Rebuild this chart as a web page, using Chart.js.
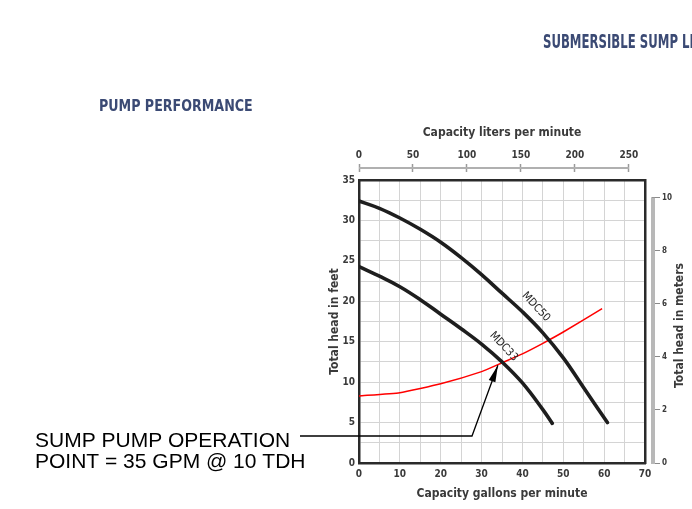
<!DOCTYPE html>
<html>
<head>
<meta charset="utf-8">
<script src="https://cdn.jsdelivr.net/npm/chart.js@4.4.1/dist/chart.umd.min.js"></script>
<style>
    html, body { margin: 0; padding: 0; background: #fff; }
    #wrap { position: relative; width: 692px; height: 509px; overflow: hidden; }
    #chart { position: absolute; left: 0; top: 0; }
    .hdr {
        position: absolute;
        font-family: "DejaVu Sans Condensed", "DejaVu Sans", sans-serif;
        font-stretch: condensed;
        font-weight: bold;
        color: #3b4a74;
        white-space: nowrap;
        transform-origin: 0 0;
    }
</style>
</head>
<body>
<div id="wrap">
    <canvas id="chart" width="692" height="509"></canvas>
    <div class="hdr" style="left:543px; top:30px; font-size:19px; transform:scaleX(0.685);">SUBMERSIBLE SUMP LI</div>
    <div class="hdr" style="left:99px; top:96px; font-size:16px; transform:scaleX(0.88);">PUMP PERFORMANCE</div>
</div>
<script>
// Pump curves (gallons per minute vs total head in feet)
const gpmMDC50  = [0, 5, 10, 15, 20, 25, 30, 35, 40, 45, 50, 55, 60.8];
const headMDC50 = [32.4, 31.5, 30.3, 28.9, 27.3, 25.4, 23.3, 21.0, 18.7, 16.1, 13.0, 9.3, 5.0];

const gpmMDC33  = [0, 5, 10, 15, 20, 25, 30, 35, 40, 45, 47.3];
const headMDC33 = [24.3, 23.1, 21.8, 20.2, 18.4, 16.6, 14.7, 12.5, 9.9, 6.6, 4.9];

// System curve (red)
const gpmSystem  = [0, 10, 20, 30, 35, 40, 45, 50, 59.5];
const headSystem = [8.3, 8.7, 9.8, 11.3, 12.4, 13.5, 14.8, 16.2, 19.1];

// Axis tick labels
const gpmTicks    = [0, 10, 20, 30, 40, 50, 60, 70];
const feetTicks   = [0, 5, 10, 15, 20, 25, 30, 35];
const litersTicks = [0, 50, 100, 150, 200, 250];
const metersTicks = [0, 2, 4, 6, 8, 10];

// Operating point the arrow points to
const opPoint = { gpm: 34, head: 12.1 };

const LPM_PER_GPM = 3.785;
const M_PER_FT = 0.3048;

const FAMILY = "'DejaVu Sans Condensed', 'DejaVu Sans', sans-serif";
const axisFont = { family: FAMILY, size: 10, weight: 'bold' };
const titleFont = { family: FAMILY, size: 12, weight: 'bold' };
const textColor = '#3a3a3a';
const gridColor = '#d4d4d4';
const frameColor = '#2a2a2a';

const toXY = (xs, ys) => xs.map((v, i) => ({ x: v, y: ys[i] }));

const overlay = {
    id: 'overlay',
    afterDatasetsDraw(chart) {
        const { ctx, chartArea, scales: { x, y, x2, y2 } } = chart;
        ctx.save();

        // liters axis line (0..250 only)
        const ly = x2.bottom - 12;
        ctx.strokeStyle = '#b0b0b0';
        ctx.lineWidth = 2;
        ctx.beginPath();
        ctx.moveTo(x2.getPixelForValue(litersTicks[0]), ly);
        ctx.lineTo(x2.getPixelForValue(litersTicks[litersTicks.length - 1]), ly);
        ctx.stroke();

        // meters axis bar
        const mx = y2.left + 8;
        ctx.strokeStyle = '#b8b8b8';
        ctx.lineWidth = 4;
        ctx.beginPath();
        ctx.moveTo(mx, y2.getPixelForValue(metersTicks[0]) + 1);
        ctx.lineTo(mx, y2.getPixelForValue(metersTicks[metersTicks.length - 1]));
        ctx.stroke();

        // right axis title, reading bottom to top
        ctx.save();
        ctx.fillStyle = textColor;
        ctx.font = 'bold 12px ' + FAMILY;
        ctx.textAlign = 'center';
        ctx.textBaseline = 'middle';
        ctx.translate(y2.right - 12, (chartArea.top + chartArea.bottom) / 2 + 4);
        ctx.rotate(-Math.PI / 2);
        ctx.fillText('Total head in meters', 0, 0);
        ctx.restore();

        // curve labels
        ctx.fillStyle = '#222';
        ctx.font = '11px ' + FAMILY;
        ctx.textAlign = 'center';
        ctx.textBaseline = 'middle';
        [['MDC50', 43.3, 19.3], ['MDC33', 35.4, 14.4]].forEach(([t, gx, hy]) => {
            ctx.save();
            ctx.translate(x.getPixelForValue(gx), y.getPixelForValue(hy));
            ctx.rotate(47 * Math.PI / 180);
            ctx.fillText(t, 0, 0);
            ctx.restore();
        });

        // annotation text
        ctx.fillStyle = '#000';
        ctx.font = "21px 'Liberation Sans', Arial, sans-serif";
        ctx.textAlign = 'left';
        ctx.textBaseline = 'alphabetic';
        ctx.fillText('SUMP PUMP OPERATION', 35, 447);
        ctx.fillText('POINT = 35 GPM @ 10 TDH', 35, 468);

        // leader line with arrow
        const tipX = x.getPixelForValue(opPoint.gpm);
        const tipY = y.getPixelForValue(opPoint.head);
        const elbowX = 472, elbowY = 436;
        ctx.strokeStyle = '#000';
        ctx.lineWidth = 1.3;
        ctx.beginPath();
        ctx.moveTo(300, elbowY);
        ctx.lineTo(elbowX, elbowY);
        ctx.lineTo(tipX, tipY);
        ctx.stroke();

        const ang = Math.atan2(tipY - elbowY, tipX - elbowX);
        const len = 17, half = 3.5;
        const bx = tipX - len * Math.cos(ang), by = tipY - len * Math.sin(ang);
        ctx.fillStyle = '#000';
        ctx.beginPath();
        ctx.moveTo(tipX, tipY);
        ctx.lineTo(bx + half * Math.sin(ang), by - half * Math.cos(ang));
        ctx.lineTo(bx - half * Math.sin(ang), by + half * Math.cos(ang));
        ctx.closePath();
        ctx.fill();

        ctx.restore();
    }
};

new Chart(document.getElementById('chart'), {
    type: 'line',
    data: {
        datasets: [
            {
                label: 'MDC50',
                data: toXY(gpmMDC50, headMDC50),
                borderColor: '#1e1e1e',
                borderWidth: 3.6,
                borderCapStyle: 'round',
                pointRadius: 0,
                tension: 0.4
            },
            {
                label: 'MDC33',
                data: toXY(gpmMDC33, headMDC33),
                borderColor: '#1e1e1e',
                borderWidth: 3.6,
                borderCapStyle: 'round',
                pointRadius: 0,
                tension: 0.4
            },
            {
                label: 'System',
                data: toXY(gpmSystem, headSystem),
                borderColor: '#ff0000',
                borderWidth: 1.5,
                pointRadius: 0,
                tension: 0.15
            }
        ]
    },
    options: {
        responsive: false,
        animation: false,
        layout: { padding: { left: 324, right: 0, top: 120, bottom: 4 } },
        plugins: { legend: { display: false }, tooltip: { enabled: false } },
        scales: {
            x: {
                type: 'linear',
                position: 'bottom',
                min: 0, max: 70,
                afterFit: s => { s.height = 42; },
                ticks: {
                    stepSize: 5,
                    color: textColor,
                    font: axisFont,
                    padding: 5,
                    maxRotation: 0,
                    autoSkip: false,
                    callback: v => gpmTicks.includes(v) ? v : ''
                },
                grid: { color: gridColor, drawTicks: false },
                border: { display: true, color: frameColor, width: 2.5 },
                title: { display: true, text: 'Capacity gallons per minute', color: textColor, font: titleFont, padding: { top: 2, bottom: 4 } }
            },
            x2: {
                type: 'linear',
                position: 'top',
                min: 0, max: 70 * LPM_PER_GPM,
                afterFit: s => { s.height = 60; },
                afterBuildTicks: s => { s.ticks = litersTicks.map(v => ({ value: v })); },
                ticks: { color: textColor, font: axisFont, padding: 3, maxRotation: 0, autoSkip: false },
                grid: {
                    drawOnChartArea: false,
                    drawTicks: true,
                    tickLength: 16,
                    tickColor: '#9a9a9a',
                    tickWidth: 1.5,
                    tickBorderDash: [8, 100],
                    tickBorderDashOffset: 0
                },
                border: { display: true, color: frameColor, width: 2.5 },
                title: { display: true, text: 'Capacity liters per minute', color: textColor, font: titleFont, padding: { top: 6, bottom: 2 } }
            },
            y: {
                type: 'linear',
                position: 'left',
                min: 0, max: 35,
                afterFit: s => { s.width = 35; },
                ticks: {
                    stepSize: 2.5,
                    color: textColor,
                    font: axisFont,
                    padding: 4,
                    autoSkip: false,
                    callback: v => feetTicks.includes(v) ? v : ''
                },
                grid: { color: gridColor, drawTicks: false },
                border: { display: true, color: frameColor, width: 2.5 },
                title: { display: true, text: 'Total head in feet', color: textColor, font: titleFont, padding: { top: 4, bottom: 2 } }
            },
            y2: {
                type: 'linear',
                position: 'right',
                min: 0, max: 35 * M_PER_FT,
                afterFit: s => { s.width = 47; },
                afterBuildTicks: s => { s.ticks = metersTicks.map(v => ({ value: v })); },
                ticks: { color: textColor, font: { ...axisFont, size: 8 }, padding: 2, autoSkip: false },
                grid: {
                    drawOnChartArea: false,
                    drawTicks: true,
                    tickLength: 15,
                    tickColor: '#8a8a8a',
                    tickWidth: 1,
                    tickBorderDash: [10, 100],
                    tickBorderDashOffset: 105
                },
                border: { display: true, color: frameColor, width: 2.5 },
                title: { display: false }
            }
        }
    },
    plugins: [overlay]
});
</script>
</body>
</html>
